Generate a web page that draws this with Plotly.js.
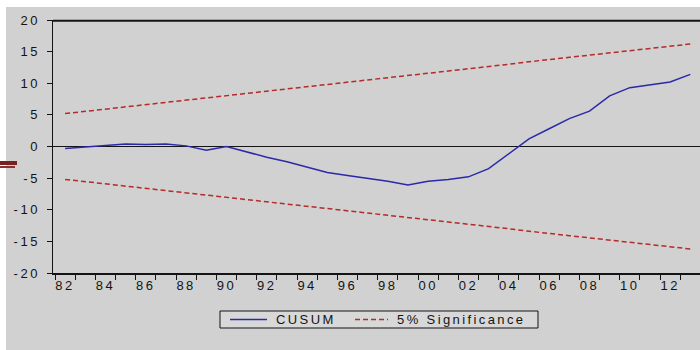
<!DOCTYPE html>
<html>
<head>
<meta charset="utf-8">
<script src="https://cdn.plot.ly/plotly-3.0.1.min.js"></script>
<style>
  html, body { margin: 0; padding: 0; background: #ffffff; width: 700px; height: 350px; overflow: hidden; }
  #chart { position: absolute; left: 6px; top: 7px; width: 694px; height: 343px; }
  .annotation-text { letter-spacing: 2.4px; }
  .xtick text, .ytick text { letter-spacing: 2.5px; }
  .mark1 { position: absolute; left: 0; top: 161px; width: 17px; height: 4px; background: #7a2222; }
  .mark2 { position: absolute; left: 0; top: 166px; width: 15px; height: 2px; background: #8a3030; }
</style>
</head>
<body>
<div id="chart"></div>
<div class="mark1"></div>
<div class="mark2"></div>
<script>
// Years (annual observations)
const years = [1982,1983,1984,1985,1986,1987,1988,1989,1990,1991,1992,1993,1994,1995,1996,1997,
               1998,1999,2000,2001,2002,2003,2004,2005,2006,2007,2008,2009,2010,2011,2012,2013];

// CUSUM statistic
const cusum = [-0.3,-0.1,0.2,0.4,0.3,0.4,0.1,-0.6,0.0,-0.9,-1.7,-2.4,-3.3,-4.1,-4.6,-5.0,
               -5.5,-6.1,-5.5,-5.2,-4.8,-3.5,-1.2,1.2,2.8,4.4,5.6,8.0,9.3,9.7,10.2,11.4];

// 5% significance bounds
const upper = [5.2,5.55,5.9,6.26,6.6,6.97,7.3,7.68,8.0,8.4,8.75,9.1,9.45,9.8,10.17,10.5,
               10.9,11.2,11.6,11.95,12.3,12.65,13.0,13.4,13.7,14.1,14.45,14.8,15.15,15.5,15.85,16.2];
const lower = [-5.2,-5.55,-5.9,-6.26,-6.6,-6.97,-7.3,-7.68,-8.0,-8.4,-8.75,-9.1,-9.45,-9.8,-10.17,-10.5,
               -10.9,-11.2,-11.6,-11.95,-12.3,-12.65,-13.0,-13.4,-13.7,-14.1,-14.45,-14.8,-15.15,-15.5,-15.85,-16.2];

// Tick labels
const xTickVals = [1982,1984,1986,1988,1990,1992,1994,1996,1998,2000,2002,2004,2006,2008,2010,2012];
const xTickText = ["82","84","86","88","90","92","94","96","98","00","02","04","06","08","10","12"];
const yTickVals = [-20,-15,-10,-5,0,5,10,15,20];
const yTickText = ["-20","-15","-10","-5","0","5","10","15","20"];

// Legend entries
const seriesNames = ["CUSUM", "5% Significance"];

const bg = '#d1d1d1';
const ink = '#141414';
const fontFam = '"Liberation Sans", Arial, sans-serif';
const blue = '#2a2aa8';
const red = '#b52a2a';

const traces = [
  { x: years, y: cusum, type: 'scatter', mode: 'lines', name: seriesNames[0],
    line: { color: blue, width: 1.5 } },
  { x: years, y: upper, type: 'scatter', mode: 'lines', name: seriesNames[1],
    line: { color: red, width: 1.5, dash: '5px,3px' } },
  { x: years, y: lower, type: 'scatter', mode: 'lines', name: seriesNames[1],
    line: { color: red, width: 1.5, dash: '5px,3px' } }
];

const legY = -0.1838;
const layout = {
  width: 694, height: 343,
  margin: { l: 47, r: 0, t: 13, b: 77 },
  paper_bgcolor: bg, plot_bgcolor: bg,
  showlegend: false,
  font: { family: fontFam, size: 13, color: ink },
  xaxis: {
    range: [1981.4, 2013.48],
    tickvals: xTickVals, ticktext: xTickText,
    ticks: '', showgrid: false, zeroline: false,
    showline: true, linecolor: ink, linewidth: 1.5,
    minor: { tick0: 1981.5, dtick: 1, ticks: 'outside', ticklen: 5, tickcolor: ink, tickwidth: 1, showgrid: false },
    tickfont: { family: fontFam, size: 13, color: ink }
  },
  yaxis: {
    range: [-20, 20],
    tickvals: yTickVals, ticktext: yTickText,
    ticks: 'outside', ticklen: 5, tickcolor: ink, tickwidth: 1,
    ticklabelstandoff: 4,
    showgrid: false, zeroline: true, zerolinecolor: ink, zerolinewidth: 1,
    showline: true, linecolor: ink, linewidth: 1.5,
    tickfont: { family: fontFam, size: 13, color: ink }
  },
  shapes: [
    // top frame line
    { type: 'line', xref: 'paper', yref: 'paper', x0: 0, x1: 1, y0: 0.997, y1: 0.997,
      layer: 'above', line: { color: ink, width: 2 } },
    // legend box
    { type: 'rect', xref: 'paper', yref: 'paper', x0: 0.2581, x1: 0.7496, y0: -0.1502, y1: -0.2174,
      fillcolor: '#d8d8d8', line: { color: ink, width: 1 } },
    // legend samples
    { type: 'line', xref: 'paper', yref: 'paper', x0: 0.2736, x1: 0.3308, y0: legY, y1: legY,
      line: { color: blue, width: 1.5 } },
    { type: 'line', xref: 'paper', yref: 'paper', x0: 0.4668, x1: 0.5178, y0: legY, y1: legY,
      line: { color: red, width: 1.5, dash: '5px,3px' } }
  ],
  annotations: [
    { xref: 'paper', yref: 'paper', x: 0.3416, y: legY, xanchor: 'left', yanchor: 'middle',
      text: seriesNames[0], showarrow: false, font: { family: fontFam, size: 13, color: ink } },
    { xref: 'paper', yref: 'paper', x: 0.5286, y: legY, xanchor: 'left', yanchor: 'middle',
      text: seriesNames[1], showarrow: false, font: { family: fontFam, size: 13, color: ink } }
  ]
};

Plotly.newPlot('chart', traces, layout, { displayModeBar: false, staticPlot: true });
</script>
</body>
</html>
